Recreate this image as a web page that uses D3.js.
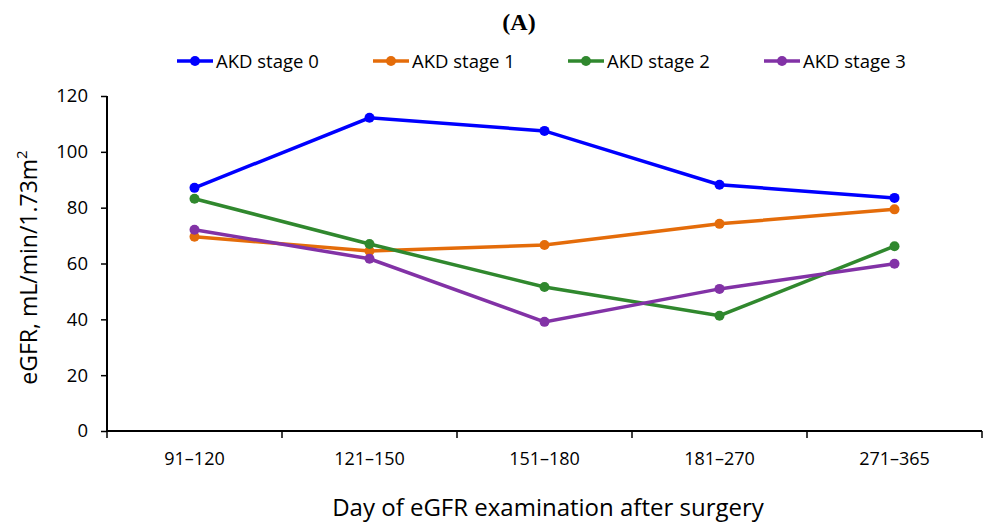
<!DOCTYPE html>
<html>
<head>
<meta charset="utf-8">
<script src="https://cdn.jsdelivr.net/npm/d3@7"></script>
<style>
  body { margin: 0; background: #fff; }
  text { font-family: "Open Sans", "Noto Sans", sans-serif; fill: #000; }
</style>
</head>
<body>
<div id="container"></div>
<script>
// categories and values
const periods = ['91–120', '121–150', '151–180', '181–270', '271–365'];
const stage0 = [87.1, 112.2, 107.5, 88.2, 83.5];
const stage1 = [69.6, 64.5, 66.6, 74.2, 79.4];
const stage2 = [83.2, 67.0, 51.6, 41.3, 66.2];
const stage3 = [72.1, 61.7, 39.1, 50.9, 59.9];
const seriesNames = ['AKD stage 0', 'AKD stage 1', 'AKD stage 2', 'AKD stage 3'];
const seriesColors = ['#0000ff', '#e46c0a', '#30882e', '#8232a6'];
const yTicks = [0, 20, 40, 60, 80, 100, 120];

const series = [stage0, stage1, stage2, stage3].map((vals, i) => ({
    name: seriesNames[i],
    color: seriesColors[i],
    values: vals
}));

// dimensions
const width = 985;
const height = 522;
const margin = { top: 96, right: 3, bottom: 91, left: 107 };

const svg = d3.select('#container')
              .append('svg')
              .attr('width', width)
              .attr('height', height);

const x = d3.scaleBand()
            .domain(periods)
            .range([margin.left, width - margin.right]);

const y = d3.scaleLinear()
            .domain([0, 120])
            .range([height - margin.bottom, margin.top]);

// title
svg.append('text')
   .attr('x', 519)
   .attr('y', 30)
   .attr('text-anchor', 'middle')
   .style('font-family', '"Liberation Serif", serif')
   .style('font-weight', 'bold')
   .style('font-size', '24px')
   .text('(A)');

// y axis
const yAxis = svg.append('g')
   .attr('transform', `translate(${margin.left},0)`)
   .call(d3.axisLeft(y).tickValues(yTicks).tickSize(6).tickPadding(13));
yAxis.select('.domain').attr('stroke-width', 2).attr('d', `M0,${y(0)}V${y(120)}`);
yAxis.selectAll('.tick line').attr('stroke-width', 1.5);
yAxis.selectAll('text').style('font-size', '18.5px');

// x axis, ticks sit at the band edges
const xAxis = svg.append('g')
   .attr('transform', `translate(0,${y(0)})`)
   .call(d3.axisBottom(x).tickSize(0).tickPadding(21));
xAxis.select('.domain').attr('stroke-width', 2).attr('d', `M${margin.left},0H${width - margin.right}`);
xAxis.selectAll('text').style('font-size', '18px');

svg.append('g')
   .selectAll('line')
   .data(periods.concat(['end']))
   .enter()
   .append('line')
   .attr('x1', (d, i) => margin.left + i * x.bandwidth())
   .attr('x2', (d, i) => margin.left + i * x.bandwidth())
   .attr('y1', y(0))
   .attr('y2', y(0) + 7)
   .attr('stroke', '#000')
   .attr('stroke-width', 1.5);

// axis titles
svg.append('text')
   .attr('transform', `translate(37,${(y(0) + y(120)) / 2 + 4}) rotate(-90)`)
   .attr('text-anchor', 'middle')
   .style('font-size', '23px')
   .html('eGFR, mL/min/1.73m<tspan dy="-10" font-size="15px">2</tspan>');

svg.append('text')
   .attr('x', 548)
   .attr('y', 516)
   .attr('text-anchor', 'middle')
   .style('font-size', '24px')
   .text('Day of eGFR examination after surgery');

// lines and markers
const line = d3.line()
               .x((d, i) => x(periods[i]) + x.bandwidth() / 2)
               .y((d) => y(d));

const groups = svg.selectAll('.series')
   .data(series)
   .enter()
   .append('g')
   .attr('class', 'series');

groups.append('path')
   .attr('d', (d) => line(d.values))
   .attr('fill', 'none')
   .attr('stroke', (d) => d.color)
   .attr('stroke-width', 3.5);

groups.selectAll('circle')
   .data((d) => d.values.map((v) => ({ v: v, color: d.color })))
   .enter()
   .append('circle')
   .attr('cx', (d, i) => x(periods[i]) + x.bandwidth() / 2)
   .attr('cy', (d) => y(d.v))
   .attr('r', 5)
   .attr('fill', (d) => d.color);

// legend
const legendX = [177, 373, 568, 764];
const legend = svg.selectAll('.legend')
   .data(series)
   .enter()
   .append('g')
   .attr('class', 'legend')
   .attr('transform', (d, i) => `translate(${legendX[i]},61)`);

legend.append('line')
   .attr('x1', 0).attr('x2', 36)
   .attr('stroke', (d) => d.color)
   .attr('stroke-width', 3.5);
legend.append('circle')
   .attr('cx', 18).attr('r', 5)
   .attr('fill', (d) => d.color);
legend.append('text')
   .attr('x', 39)
   .attr('y', 7)
   .style('font-size', '18.5px')
   .text((d) => d.name);
</script>
</body>
</html>
